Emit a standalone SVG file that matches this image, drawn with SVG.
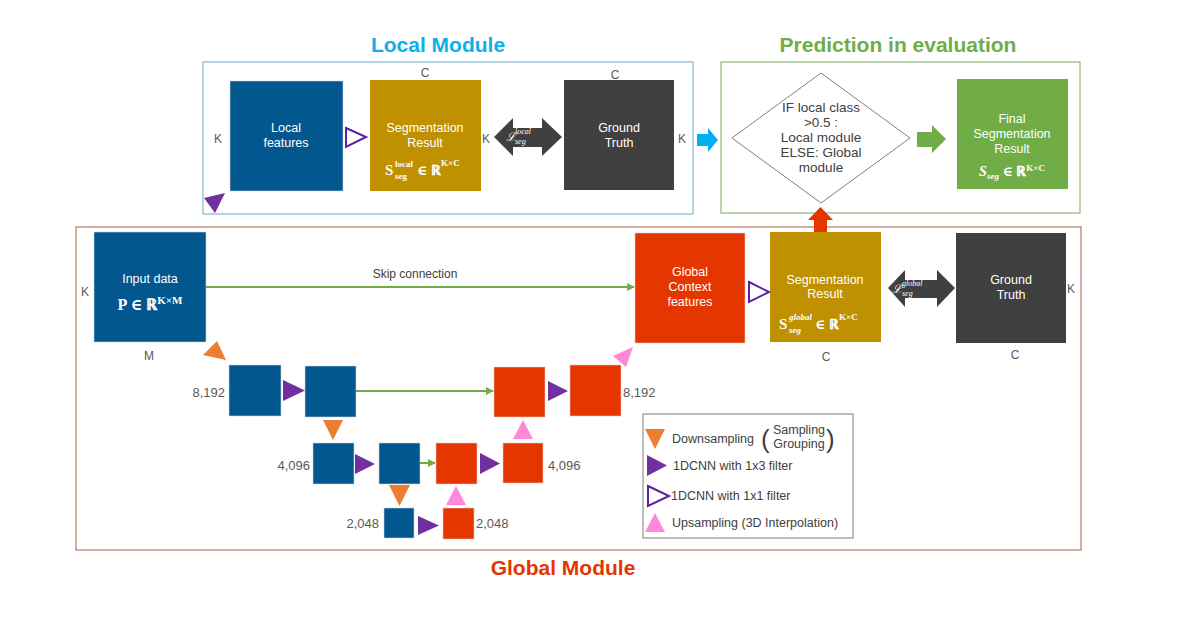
<svg xmlns="http://www.w3.org/2000/svg" width="1190" height="621" viewBox="0 0 1190 621">
<defs>
<marker id="ga" viewBox="0 0 10 10" refX="9" refY="5" markerWidth="4" markerHeight="4" orient="auto" markerUnits="strokeWidth">
<path d="M0,0 L10,5 L0,10 Z" fill="#70ad47"/>
</marker>
<style>
.t{font-family:"Liberation Sans","DejaVu Sans",sans-serif}
.w{fill:#fff;font-size:12.5px;text-anchor:middle}
.lb{fill:#595959;font-size:12px;text-anchor:middle}
.num{fill:#595959;font-size:13px}
.lg{fill:#404040;font-size:12.5px}
.dm{fill:#404040;font-size:13.5px;text-anchor:middle}
.ttl{font-size:21px;font-weight:bold;text-anchor:middle}
.f{font-family:"Liberation Serif","DejaVu Serif",serif;font-weight:bold;fill:#fff}
.li{font-family:"Liberation Serif","DejaVu Serif",serif;font-style:italic;fill:#fff}
.blue{fill:#02578f;stroke:#c8d4de;stroke-width:0.6}
.red{fill:#e53600;stroke:#e8c8c0;stroke-width:0.6}
.gold{fill:#bf9000}
.dark{fill:#404040}
.pur{fill:#7030a0}
.open{fill:#fff;stroke:#5b1fa0;stroke-width:2}
.org{fill:#ed7d31}
.pink{fill:#ff88d8}
.skip{stroke:#70ad47;stroke-width:2;fill:none}
</style>
</defs>
<rect width="1190" height="621" fill="#fff"/>

<g id="local-module">
<rect x="203" y="62" width="490" height="152" fill="none" stroke="#6aaac8" stroke-width="1"/>
<text class="t ttl" x="438" y="52" fill="#12aee8">Local Module</text>
</g>
<g id="prediction-module">
<rect x="721" y="62" width="359" height="151" fill="none" stroke="#7aa860" stroke-width="1"/>
<text class="t ttl" x="898" y="52" fill="#70ad47">Prediction in evaluation</text>
</g>
<g id="global-module">
<rect x="76" y="227" width="1005" height="323" fill="none" stroke="#a95a4a" stroke-width="1"/>
<text class="t ttl" x="563" y="575" fill="#e53600">Global Module</text>
</g>

<g id="local-features">
<rect class="blue" x="230" y="81" width="113" height="110"/>
<text class="t w" x="286" y="132">Local</text>
<text class="t w" x="286" y="147">features</text>
<text class="t lb" x="218" y="143">K</text>
</g>
<g id="local-seg">
<rect class="gold" x="370" y="80" width="111" height="111"/>
<text class="t w" x="425" y="132">Segmentation</text>
<text class="t w" x="425" y="147">Result</text>
<text class="f" x="385" y="175" font-size="15">S</text>
<text class="f" x="395" y="167" font-size="9">local</text>
<text class="f" x="395" y="179" font-size="9">seg</text>
<text class="f" x="417" y="175" font-size="14">∈ ℝ</text>
<text class="f" x="441" y="166" font-size="9">K×C</text>
<text class="t lb" x="425" y="77">C</text>
<text class="t lb" x="486" y="143">K</text>
</g>
<g id="local-gt">
<rect class="dark" x="564" y="80" width="110" height="110"/>
<text class="t w" x="619" y="132">Ground</text>
<text class="t w" x="619" y="147">Truth</text>
<text class="t lb" x="615" y="79">C</text>
<text class="t lb" x="682" y="143">K</text>
</g>
<g id="local-loss">
<path class="dark" d="M494,137 L513,118 L513,128 L542,128 L542,118 L562,137 L542,156 L542,147 L513,147 L513,156 Z"/>
<text class="li" x="506" y="141" font-size="12">ℒ</text>
<text class="li" x="515" y="134" font-size="8">local</text>
<text class="li" x="515" y="144" font-size="8">seg</text>
</g>

<g id="decision">
<polygon points="732,138 821,73 910,138 821,203" fill="#fff" stroke="#7f7f7f" stroke-width="1"/>
<text class="t dm" x="821" y="112">IF local class</text>
<text class="t dm" x="821" y="127">&gt;0.5 :</text>
<text class="t dm" x="821" y="142">Local module</text>
<text class="t dm" x="821" y="157">ELSE: Global</text>
<text class="t dm" x="821" y="172">module</text>
</g>
<g id="final-seg">
<rect x="957" y="79" width="111" height="110" fill="#70ad47"/>
<text class="t w" x="1012" y="123">Final</text>
<text class="t w" x="1012" y="138">Segmentation</text>
<text class="t w" x="1012" y="153">Result</text>
<text class="f" x="1012" y="176" font-size="14" text-anchor="middle"><tspan font-style="italic">S</tspan><tspan font-size="9" font-style="italic" dy="3">seg</tspan><tspan dy="-3"> ∈ ℝ</tspan><tspan font-size="9" dy="-5">K×C</tspan></text>
</g>

<g id="input-data">
<rect class="blue" x="94" y="232" width="112" height="110"/>
<text class="t w" x="150" y="283">Input data</text>
<text class="f" x="150" y="310" font-size="16" text-anchor="middle">P ∈ ℝ<tspan font-size="11" dy="-6">K×M</tspan></text>
<text class="t lb" x="85" y="296">K</text>
<text class="t lb" x="149" y="360">M</text>
</g>
<g id="global-context">
<rect class="red" x="635" y="233" width="110" height="110"/>
<text class="t w" x="690" y="276">Global</text>
<text class="t w" x="690" y="291">Context</text>
<text class="t w" x="690" y="306">features</text>
</g>
<g id="global-seg">
<rect class="gold" x="770" y="232" width="111" height="110"/>
<text class="t w" x="825" y="284">Segmentation</text>
<text class="t w" x="825" y="298">Result</text>
<text class="f" x="779" y="329" font-size="15">S</text>
<text class="f" x="789" y="320" font-size="9" font-style="italic">global</text>
<text class="f" x="789" y="333" font-size="9" font-style="italic">seg</text>
<text class="f" x="815" y="329" font-size="14">∈ ℝ</text>
<text class="f" x="839" y="320" font-size="9">K×C</text>
<text class="t lb" x="826" y="361">C</text>
</g>
<g id="global-gt">
<rect class="dark" x="956" y="233" width="110" height="110"/>
<text class="t w" x="1011" y="284">Ground</text>
<text class="t w" x="1011" y="299">Truth</text>
<text class="t lb" x="1071" y="293">K</text>
<text class="t lb" x="1015" y="359">C</text>
</g>
<g id="global-loss">
<path class="dark" d="M888,288 L905,270 L905,280 L937,280 L937,270 L955,288 L937,307 L937,298 L905,298 L905,307 Z"/>
<text class="li" x="892" y="293" font-size="12">ℒ</text>
<text class="li" x="902" y="286" font-size="8">global</text>
<text class="li" x="902" y="296" font-size="8">seg</text>
</g>

<g id="enc1"><rect class="blue" x="229" y="365" width="52" height="51"/><text class="t num" x="225" y="397" text-anchor="end">8,192</text></g>
<g id="enc2"><rect class="blue" x="305" y="366" width="51" height="51"/></g>
<g id="dec1"><rect class="red" x="494" y="367" width="51" height="50"/></g>
<g id="dec2"><rect class="red" x="570" y="365" width="51" height="51"/><text class="t num" x="623" y="397">8,192</text></g>
<g id="enc3"><rect class="blue" x="313" y="443" width="41" height="41"/><text class="t num" x="310" y="470" text-anchor="end">4,096</text></g>
<g id="enc4"><rect class="blue" x="379" y="443" width="41" height="41"/></g>
<g id="dec3"><rect class="red" x="436" y="443" width="41" height="41"/></g>
<g id="dec4"><rect class="red" x="503" y="443" width="40" height="40"/><text class="t num" x="548" y="470">4,096</text></g>
<g id="enc5"><rect class="blue" x="384" y="508" width="30" height="30"/><text class="t num" x="379" y="528" text-anchor="end">2,048</text></g>
<g id="dec5"><rect class="red" x="443" y="508" width="31" height="31"/><text class="t num" x="476" y="528">2,048</text></g>

<g id="connectors">
<line class="skip" x1="206" y1="287" x2="634" y2="287" marker-end="url(#ga)"/>
<text class="t" x="415" y="278" fill="#404040" font-size="12" text-anchor="middle">Skip connection</text>
<line class="skip" x1="356" y1="391" x2="493" y2="391" marker-end="url(#ga)"/>
<line class="skip" x1="420" y1="463" x2="435" y2="463" marker-end="url(#ga)"/>
<polygon class="open" points="346,128 366,137 346,147"/>
<polygon class="open" points="749,282 769,292 749,302"/>
<polygon class="pur" points="204,198 225,193 215,213"/>
<polygon class="pur" points="283,380 305,390.5 283,401"/>
<polygon class="pur" points="548,381 568,391 548,401"/>
<polygon class="pur" points="355,454 375,464 355,474"/>
<polygon class="pur" points="480,453 500,463.5 480,474"/>
<polygon class="pur" points="418,516 439,525.5 418,535"/>
<polygon class="org" points="217,341 203,355 226,360"/>
<polygon class="org" points="323,420 343,420 333,440"/>
<polygon class="org" points="389,485 410,485 399.5,506"/>
<polygon class="pink" points="633,347 613,356 626,367"/>
<polygon class="pink" points="513,439 533,439 523,420"/>
<polygon class="pink" points="446,505 466,505 456,486"/>
<path d="M697,134 L708,134 L708,128 L718,140 L708,152 L708,146 L697,146 Z" fill="#00b0f0"/>
<path d="M917,132 L932,132 L932,125 L946,139 L932,153 L932,147 L917,147 Z" fill="#70ad47"/>
<path d="M814,232 L814,220 L808,220 L820.5,207 L833,220 L827,220 L827,232 Z" fill="#e53600"/>
</g>

<g id="legend">
<rect x="643" y="414" width="210" height="124" fill="#fff" stroke="#7f7f7f" stroke-width="1"/>
<polygon class="org" points="645,429 665,429 655,449"/>
<text class="t lg" x="672" y="443">Downsampling</text>
<text class="t" x="761" y="448" fill="#404040" font-size="26">(</text>
<text class="t lg" x="799" y="434" text-anchor="middle" font-size="11.5">Sampling</text>
<text class="t lg" x="799" y="448" text-anchor="middle" font-size="11.5">Grouping</text>
<text class="t" x="826" y="448" fill="#404040" font-size="26">)</text>
<polygon class="pur" points="647,455 667,465.5 647,476"/>
<text class="t lg" x="673" y="470">1DCNN with 1x3 filter</text>
<polygon class="open" points="648,486 669,496 648,506"/>
<text class="t lg" x="671" y="500">1DCNN with 1x1 filter</text>
<polygon class="pink" points="645,532 665,532 655,513"/>
<text class="t lg" x="672" y="527">Upsampling (3D Interpolation)</text>
</g>
</svg>
